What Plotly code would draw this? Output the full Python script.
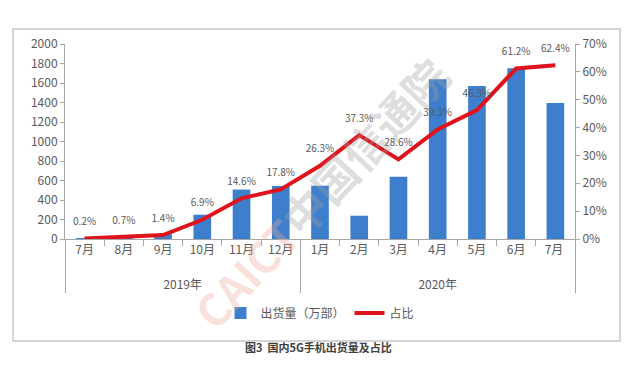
import plotly.graph_objects as go

years = ["<br>2019年"] * 6 + ["<br>2020年"] * 7
months = ["7月", "8月", "9月", "10月", "11月", "12月",
          "1月", "2月", "3月", "4月", "5月", "6月", "7月 "]
shipments = [6, 22, 50, 249, 507, 543, 547, 239, 638, 1638, 1568, 1751, 1394]
share = [0.2, 0.7, 1.4, 6.9, 14.6, 17.8, 26.3, 37.3, 28.6, 39.3, 46.3, 61.2, 62.4]
share_labels = [f"{v:.1f}%" for v in share]

FONT = "Noto Sans CJK SC, Liberation Sans, sans-serif"
GREY = "#595959"

fig = go.Figure()
fig.add_trace(go.Bar(
    x=[years, months], y=shipments, name="出货量（万部）",
    marker=dict(color="#3d7fcc", line=dict(width=0)),
))
fig.add_trace(go.Scatter(
    x=[years, months], y=[v / 100 for v in share], name="占比",
    yaxis="y2", mode="lines",
    line=dict(color="#e0121c", width=4), cliponaxis=False,
))
fig.add_trace(go.Scatter(
    x=[years, months], y=[v / 100 for v in share], showlegend=False,
    yaxis="y2", mode="markers+text", text=share_labels,
    marker=dict(size=16, opacity=0, color="#e0121c"),
    textposition="top center", textfont=dict(size=10, color=GREY, family=FONT),
    cliponaxis=False, hoverinfo="skip",
))

fig.update_layout(
    width=630, height=372,
    margin=dict(l=57, r=63, t=36, b=141),
    paper_bgcolor="white", plot_bgcolor="white",
    font=dict(family=FONT, color=GREY, size=12),
    bargap=0.55,
    showlegend=True,
    legend=dict(orientation="h", x=0.5, xanchor="center", y=-0.38, yanchor="middle",
                font=dict(size=12, color=GREY), itemwidth=30, tracegroupgap=0),
    xaxis=dict(type="multicategory", range=[-0.5, len(months) - 0.5],
               showline=True, linecolor="#a6a6a6", linewidth=1,
               ticks="outside", ticklen=6, tickcolor="#a6a6a6", automargin=False,
               showdividers=True, dividercolor="#a6a6a6", dividerwidth=1,
               tickfont=dict(size=12, color=GREY), showgrid=False),
    yaxis=dict(range=[0, 2000], dtick=200, showline=True, linecolor="#a6a6a6",
               ticks="outside", ticklen=4, tickcolor="#a6a6a6", showgrid=False,
               zeroline=False, tickfont=dict(size=12, color=GREY), automargin=False),
    yaxis2=dict(range=[0, 0.7], dtick=0.1, tickformat=".0%", overlaying="y", side="right",
                showline=True, linecolor="#a6a6a6", ticks="outside", ticklen=4,
                tickcolor="#a6a6a6", showgrid=False, zeroline=False, automargin=False,
                tickfont=dict(size=12, color=GREY)),
)

fig.add_shape(type="rect", xref="paper", yref="paper",
              x0=-52 / 510, x1=(612 - 57) / 510, y0=(231 - 333) / 195, y1=(231 - 21) / 195,
              line=dict(color="#c8c8c8", width=1.5), fillcolor="rgba(0,0,0,0)", layer="below")

fig.add_annotation(text="<b>图3  国内5G手机出货量及占比</b>", xref="paper", yref="paper",
                   x=(310 - 57) / 510, y=(231 - 349) / 195, showarrow=False,
                   font=dict(size=11, color="#404040", family=FONT))

# faint watermark
fig.add_annotation(
    text="<b><span style='color:rgba(235,170,150,0.35)'>CAICT</span>"
         "<span style='color:rgba(160,160,160,0.35)'>中国信通院</span></b>",
    xref="paper", yref="paper", x=(312 - 57) / 510, y=(231 - 185) / 195,
    xanchor="center", yanchor="middle",
    showarrow=False, textangle=-47, font=dict(size=44, family=FONT))

fig.write_html("out.html")
